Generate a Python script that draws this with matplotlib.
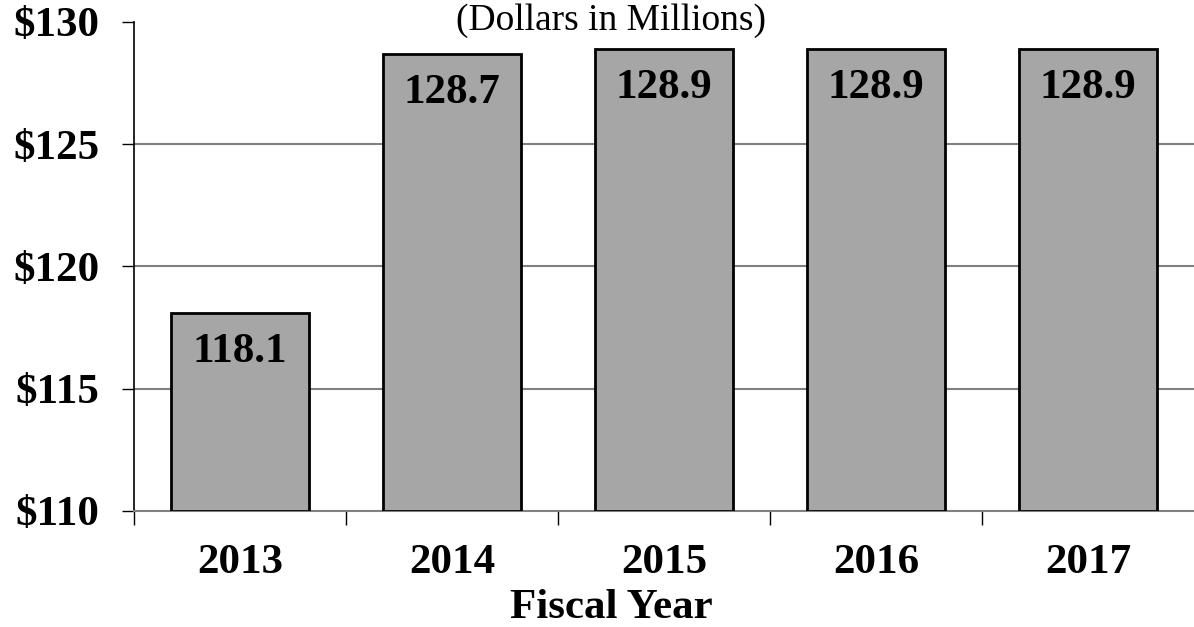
import matplotlib
matplotlib.use("Agg")
import matplotlib.pyplot as plt
import numpy as np

years = ["2013", "2014", "2015", "2016", "2017"]
values = [118.1, 128.7, 128.9, 128.9, 128.9]
value_labels = ["118.1", "128.7", "128.9", "128.9", "128.9"]
yticks = [110, 115, 120, 125, 130]
ytick_labels = ["$110", "$115", "$120", "$125", "$130"]
base = 110

plt.rcParams['font.family'] = ['Liberation Serif', 'DejaVu Serif']

fig = plt.figure(figsize=(11.94, 6.27), dpi=100)
ax = fig.add_axes([134/1194, (627-511)/627, 1 - 134/1194, (511-22)/627])

x = np.arange(len(years))
heights = [v - base for v in values]
ax.bar(x, heights, bottom=base, width=0.655, color='#a6a6a6',
       edgecolor='black', linewidth=2, zorder=3)

for xi, v, lab in zip(x, values, value_labels):
    ax.annotate(lab, (xi, v), xytext=(0, -14.5), textcoords='offset points',
                ha='center', va='top', fontsize=31, fontweight='bold', zorder=4)

ax.set_xlim(-0.5, 4.5)
ax.set_ylim(110, 130)

ax.set_yticks(yticks)
ax.set_yticklabels(ytick_labels, fontsize=31, fontweight='bold')
ax.tick_params(axis='y', length=9, width=1, color='black', pad=16, direction='out')

for yv in [115, 120, 125]:
    ax.axhline(yv, color='#808080', linewidth=1.5, zorder=1)

ax.set_xticks(x)
ax.set_xticklabels(years, fontsize=31, fontweight='bold')
ax.tick_params(axis='x', which='major', length=0, pad=24)
ax.set_xticks(np.arange(-0.5, 4.6, 1.0)[:-1], minor=True)
ax.tick_params(axis='x', which='minor', length=10, width=1, color='black', direction='out')

for s in ['top', 'right']:
    ax.spines[s].set_visible(False)
ax.spines['left'].set_color('black')
ax.spines['left'].set_linewidth(1.2)
ax.spines['bottom'].set_color('#808080')
ax.spines['bottom'].set_linewidth(1.5)

fig.text(611/1194, 1 - 30/627, "(Dollars in Millions)", ha='center', va='baseline', fontsize=27)
fig.text(611/1194, 1 - 618/627, "Fiscal Year", ha='center', va='baseline', fontsize=31, fontweight='bold')

fig.savefig("out.png", dpi=100)
